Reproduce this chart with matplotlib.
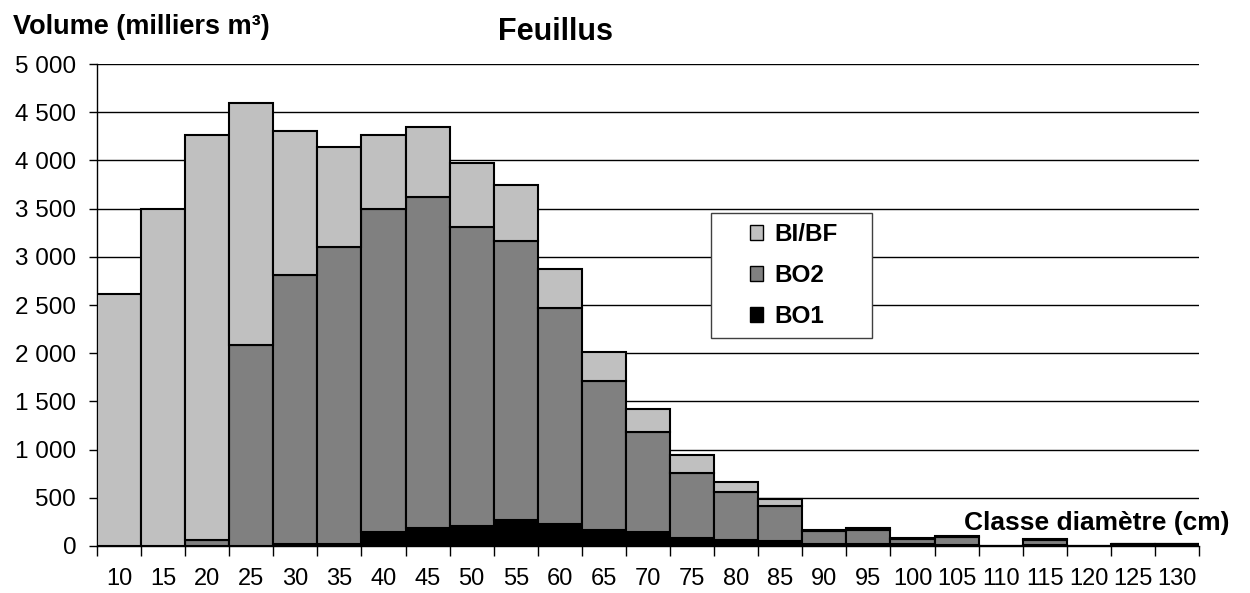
import numpy as np
import matplotlib
matplotlib.use('Agg')
import matplotlib.pyplot as plt
from matplotlib.patches import Rectangle
from matplotlib.ticker import FuncFormatter, FixedLocator

plt.rcParams['font.family'] = ['Liberation Sans', 'DejaVu Sans']

# classes de diametre (cm)
classes = [10, 15, 20, 25, 30, 35, 40, 45, 50, 55, 60, 65, 70,
           75, 80, 85, 90, 95, 100, 105, 110, 115, 120, 125, 130]

# volumes (milliers m3) par qualite
bo1 = [0, 0, 0, 0, 20, 20, 150, 190, 205, 270, 230, 170, 150,
       85, 65, 55, 25, 25, 20, 15, 0, 10, 0, 25, 25]
bo2 = [0, 0, 65, 2090, 2790, 3080, 3350, 3430, 3105, 2890, 2235, 1540, 1030,
       675, 490, 355, 135, 145, 50, 73, 0, 55, 0, 0, 0]
bibf = [2610, 3500, 4200, 2510, 1495, 1040, 765, 725, 665, 590, 410, 300, 240,
        185, 105, 75, 5, 20, 10, 20, 0, 5, 0, 0, 0]

yticks = [0, 500, 1000, 1500, 2000, 2500, 3000, 3500, 4000, 4500, 5000]

x = np.arange(len(classes))
bo1 = np.array(bo1)
bo2 = np.array(bo2)
bibf = np.array(bibf)

fig = plt.figure(figsize=(12.5, 5.93), dpi=100)
ax = fig.add_axes([0.0776, 0.0793, 0.8816, 0.8127])

kw = dict(width=1.0, edgecolor='black', linewidth=1.5, zorder=3)
ax.bar(x, bo1, color='#000000', label='BO1', **kw)
ax.bar(x, bo2, bottom=bo1, color='#808080', label='BO2', **kw)
ax.bar(x, bibf, bottom=bo1 + bo2, color='#C0C0C0', label='BI/BF', **kw)

ax.set_xlim(-0.5, len(classes) - 0.5)
ax.set_ylim(0, 5000)

ax.set_yticks(yticks)
ax.yaxis.set_major_formatter(FuncFormatter(lambda v, p: f'{int(v):,}'.replace(',', ' ')))
ax.grid(axis='y', color='black', linewidth=1.0, zorder=0)

ax.set_xticks(x)
ax.set_xticklabels([str(c) for c in classes])
ax.xaxis.set_minor_locator(FixedLocator(np.arange(len(classes) + 1) - 0.5))
ax.tick_params(axis='x', which='major', length=0, pad=16, labelsize=17)
ax.tick_params(axis='x', which='minor', length=7, width=1.0, direction='out')
ax.tick_params(axis='y', length=6, width=1.0, pad=9, labelsize=17.5)

for s in ['top', 'right']:
    ax.spines[s].set_visible(False)
ax.spines['left'].set_linewidth(1.0)
ax.spines['bottom'].set_linewidth(1.0)
ax.spines['bottom'].set_zorder(4)

# cadre de la legende
box = Rectangle((0.557, 0.4315), 0.146, 0.26, transform=ax.transAxes,
                facecolor='white', edgecolor='#404040', linewidth=1.0, zorder=5)
ax.add_patch(box)

handles, labels = ax.get_legend_handles_labels()
leg = ax.legend(handles[::-1], labels[::-1], loc='center',
                bbox_to_anchor=(0.632, 0.5615), frameon=False,
                prop={'weight': 'bold', 'size': 17.5},
                handlelength=0.55, handleheight=0.55, handletextpad=0.45,
                labelspacing=0.74, borderpad=0, borderaxespad=0)
leg.set_zorder(6)
for h in leg.legend_handles:
    h.set_linewidth(1.0)

ax.text(1.028, 0.048, 'Classe diamètre (cm)', transform=ax.transAxes,
        ha='right', va='center', fontsize=19, fontweight='bold')
fig.text(0.0104, 0.955, 'Volume (milliers m³)', ha='left', va='center',
         fontsize=19.5, fontweight='bold')
fig.text(0.444, 0.946, 'Feuillus', ha='center', va='center',
         fontsize=22, fontweight='bold')

fig.savefig('out.png', dpi=100)
